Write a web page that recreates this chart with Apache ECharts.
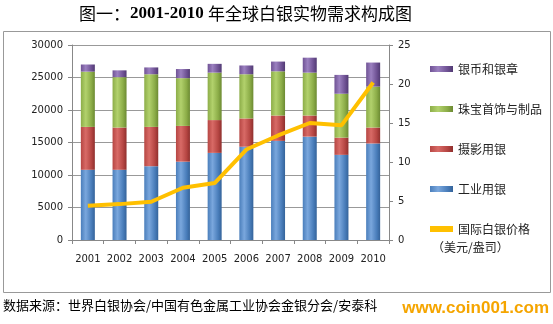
<!DOCTYPE html>
<html><head><meta charset="utf-8">
<script src="https://cdn.jsdelivr.net/npm/echarts@6/dist/echarts.min.js"></script>
<style>html,body{margin:0;padding:0;background:#fff}#c{width:553px;height:324px}</style>
</head><body><div id="c"></div>
<script>
const years = ['2001','2002','2003','2004','2005','2006','2007','2008','2009','2010'];
const industrial = [10800, 10800, 11350, 12050, 13400, 14350, 15250, 15900, 13100, 14850];
const photo      = [6600, 6500, 6050, 5500, 5050, 4350, 3900, 3250, 2650, 2450];
const jewelry    = [8500, 7750, 8100, 7350, 7300, 6800, 6800, 6600, 6750, 6300];
const coins      = [1100, 1050, 1050, 1400, 1350, 1350, 1500, 2300, 2900, 3700];
const price      = [4.4, 4.6, 4.9, 6.7, 7.3, 11.6, 13.4, 15.0, 14.7, 20.2];
const names = ['工业用银','摄影用银','珠宝首饰与制品','银币和银章','国际白银价格'];
const leftTicks = [0, 30000, 5000];
const rightTicks = [0, 25, 5];

function grad(dark, light, darker){
  return {type:'linear',x:0,y:0,x2:1,y2:0,colorStops:[
    {offset:0,color:dark},{offset:0.35,color:light},{offset:0.75,color:dark},{offset:1,color:darker}]};
}
const cjk = '"Noto Sans CJK SC", sans-serif';
const num = '"DejaVu Sans", sans-serif';
const chart = echarts.init(document.getElementById('c'), null, {renderer:'canvas'});
const barSeries = [
  {name:names[0], data:industrial, c:grad('#4a7ebb','#7aa7dd','#34639a')},
  {name:names[1], data:photo, c:grad('#b64643','#d86a66','#8f2f2d')},
  {name:names[2], data:jewelry, c:grad('#8cad48','#b2d16c','#6c8a32')},
  {name:names[3], data:coins, c:grad('#6f5294','#9b80c0','#513a73')}
].map(s=>({name:s.name,type:'bar',stack:'d',data:s.data,barWidth:14,
  itemStyle:{color:s.c},yAxisIndex:0}));

chart.setOption({
  animation:false,
  graphic:[
    {type:'rect',shape:{x:3.5,y:31.5,width:547,height:261},style:{fill:'none',stroke:'#999',lineWidth:1},z:-1},
    {type:'text',left:79,top:5,style:{rich:{
      a:{fontFamily:cjk,fontSize:17,fill:'#000'},
      b:{fontFamily:'"Liberation Serif", serif',fontWeight:'bold',fontSize:17,fill:'#000'}},
      text:'{a|图一：}{b|2001-2010 }{a|年全球白银实物需求构成图}'}},
    {type:'text',left:3,top:299,style:{text:'数据来源：世界白银协会/中国有色金属工业协会金银分会/安泰科',fontFamily:cjk,fontSize:13,fill:'#000'}},
    {type:'text',right:4,top:300,style:{text:'www.coin001.com',fontFamily:'"Liberation Sans Narrow","Liberation Sans",sans-serif',fontWeight:'bold',fontSize:17,fill:'#f5a500'}},
    {type:'text',left:432,top:241,style:{text:'（美元/盎司）',fontFamily:cjk,fontSize:12,fill:'#222'}}
  ],
  legend:{orient:'vertical',left:425,top:57,itemGap:26,itemWidth:23,itemHeight:6,
    textStyle:{fontFamily:cjk,fontSize:12,color:'#222',lineHeight:14},
    data:[{name:names[3],icon:'rect'},{name:names[2],icon:'rect'},{name:names[1],icon:'rect'},{name:names[0],icon:'rect'},
      {name:names[4],icon:'rect',itemStyle:{color:'#FFC000'}}]},
  grid:{left:72,right:164,top:45,bottom:84},
  xAxis:{type:'category',data:years,boundaryGap:true,
    axisLine:{lineStyle:{color:'#888'}},axisTick:{show:true,length:4,lineStyle:{color:'#888'}},
    axisLabel:{interval:0,color:'#222',fontSize:10,fontFamily:num,margin:14}},
  yAxis:[
    {type:'value',min:leftTicks[0],max:leftTicks[1],interval:leftTicks[2],
     axisLine:{show:true,lineStyle:{color:'#888'}},axisTick:{show:true,length:4,lineStyle:{color:'#888'}},
     splitLine:{lineStyle:{color:'#999'}},
     axisLabel:{color:'#222',fontSize:10,fontFamily:num,margin:9,formatter:v=>String(v)}},
    {type:'value',min:rightTicks[0],max:rightTicks[1],interval:rightTicks[2],position:'right',
     axisLine:{show:true,lineStyle:{color:'#888'}},axisTick:{show:true,length:4,lineStyle:{color:'#888'}},
     splitLine:{show:false},
     axisLabel:{color:'#222',fontSize:10,fontFamily:num,margin:9,formatter:v=>String(v)}}
  ],
  series: barSeries.concat([{name:names[4],type:'line',yAxisIndex:1,data:price,symbol:'none',
    lineStyle:{color:'#FFC000',width:4},itemStyle:{color:'#FFC000'},z:5}])
});
</script></body></html>
